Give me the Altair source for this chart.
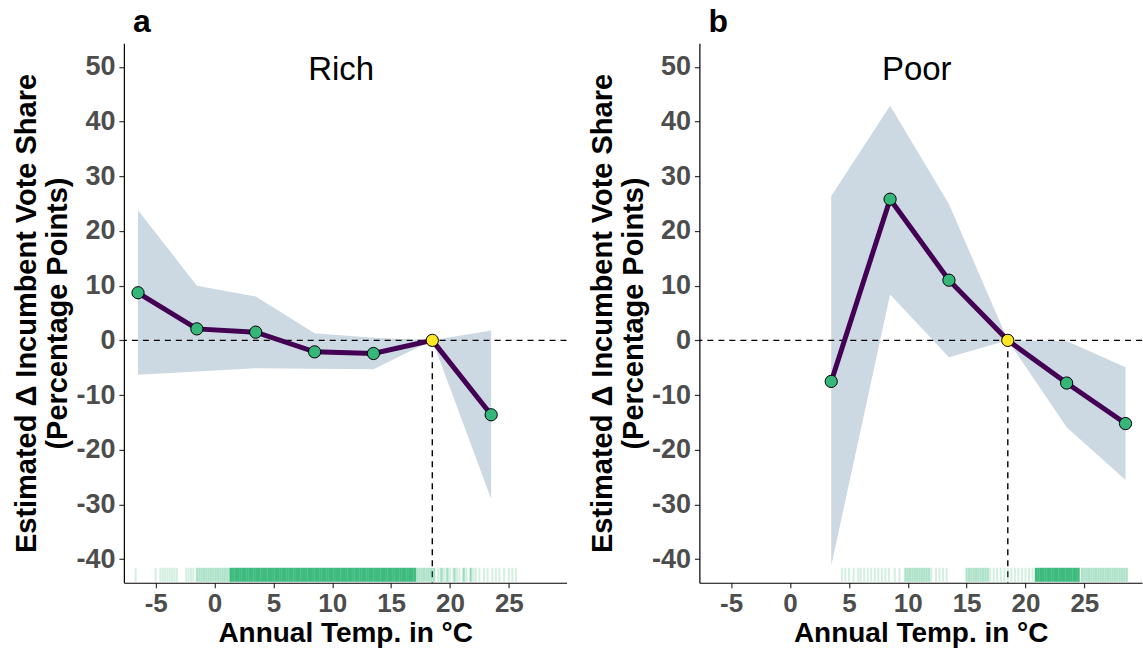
import altair as alt
import pandas as pd

# ---- data ----
temps_a = [-6.5, -1.5, 3.5, 8.5, 13.5, 18.5, 23.5]
est_a = [8.7, 2.1, 1.5, -2.1, -2.4, 0.0, -13.6]
upper_a = [23.8, 10.0, 8.0, 1.3, 0.5, 0.0, 1.8]
lower_a = [-6.3, -5.7, -5.1, -5.2, -5.3, 0.0, -29.0]

temps_b = [3.5, 8.5, 13.5, 18.5, 23.5, 28.5]
est_b = [-7.5, 25.8, 11.0, 0.0, -7.8, -15.2]
upper_b = [26.4, 42.9, 24.9, 0.0, -0.1, -4.9]
lower_b = [-41.2, 8.4, -3.1, 0.0, -15.9, -25.5]

ref_temp = 18.5

# rug (observed annual temperatures), grouped by how dense they appear
rug_a_light = [-6.7, -5.0, -4.6, -4.4, -4.2, -4.0, -3.8, -3.6, -3.4, -3.2, -2.4, -2.2,
               -2.0, -1.8, 18.7, 19.0, 19.2, 19.5, 19.7, 20.0, 20.3, 20.6, 20.8, 21.1,
               21.4, 21.7, 22.0, 22.2, 22.5, 22.9, 23.2, 23.6, 23.9, 24.2, 24.6, 25.0,
               25.3, 25.6]
rug_a_mid = [-1.5, -1.3, -1.1, -0.9, -0.7, -0.5, -0.3, -0.1, 0.1, 0.3, 0.5, 0.7, 0.9,
             1.1, 1.3, 17.2, 17.4, 17.6, 17.8, 18.0, 18.2, 18.4, 18.6, 19.3, 19.8, 20.4,
             21.2, 21.8]
rug_a_dense = [1.4, 1.6, 1.8, 2.0, 2.2, 2.4, 2.6, 2.8, 3.0, 3.2, 3.4, 3.6, 3.8, 4.0,
               4.2, 4.4, 4.6, 4.8, 5.0, 5.2, 5.4, 5.6, 5.8, 6.0, 6.2, 6.4, 6.6, 6.8,
               7.0, 7.2, 7.4, 7.6, 7.8, 8.0, 8.2, 8.4, 8.6, 8.8, 9.0, 9.2, 9.4, 9.6,
               9.8, 10.0, 10.2, 10.4, 10.6, 10.8, 11.0, 11.2, 11.4, 11.6, 11.8, 12.0,
               12.2, 12.4, 12.6, 12.8, 13.0, 13.2, 13.4, 13.6, 13.8, 14.0, 14.2, 14.4,
               14.6, 14.8, 15.0, 15.2, 15.4, 15.6, 15.8, 16.0, 16.2, 16.4, 16.6, 16.8,
               17.0]

rug_b_light = [4.4, 4.7, 5.0, 5.4, 5.8, 6.0, 6.3, 6.6, 6.9, 7.2, 7.5, 7.8, 8.1, 8.4,
               8.9, 9.3, 12.0, 12.4, 12.7, 13.0, 13.3, 17.0, 17.3, 17.6, 17.9, 18.2,
               18.5, 18.8, 19.1, 19.4, 19.7, 20.0, 20.3, 20.6]
rug_b_mid = [9.8, 10.0, 10.2, 10.4, 10.6, 10.8, 11.0, 11.2, 11.4, 11.6, 11.8, 15.0,
             15.2, 15.4, 15.6, 15.8, 16.0, 16.2, 16.4, 16.6, 16.8, 24.8, 25.0, 25.2,
             25.4, 25.6, 25.8, 26.0, 26.2, 26.4, 26.6, 26.8, 27.0, 27.2, 27.4, 27.6,
             27.8, 28.0, 28.2, 28.4, 28.6]
rug_b_dense = [20.9, 21.1, 21.3, 21.5, 21.7, 21.9, 22.1, 22.3, 22.5, 22.7, 22.9, 23.1,
               23.3, 23.5, 23.7, 23.9, 24.1, 24.3, 24.5]

y_ticks = [-40, -30, -20, -10, 0, 10, 20, 30, 40, 50]
x_ticks = [-5, 0, 5, 10, 15, 20, 25]
y_domain = [-44.3, 54.3]
x_domain = [-7.7, 29.9]

FONT = "Liberation Sans"
PURPLE = "#440154"
GREEN = "#35B779"
YELLOW = "#FDE725"
BAND = "#CCD9E3"
H = 540
W = 443


def panel(temps, est, lo, hi, rug_light, rug_mid, rug_dense, letter, name):
    df = pd.DataFrame({"temp": temps, "est": est, "lo": lo, "hi": hi})
    df["is_ref"] = df["temp"] == ref_temp
    xs = alt.Scale(domain=x_domain, nice=False, zero=False)
    ys = alt.Scale(domain=y_domain, nice=False, zero=False)
    xax = alt.Axis(values=x_ticks, title="Annual Temp. in °C", grid=False,
                   labelExpr="'' + datum.value")
    yax = alt.Axis(values=y_ticks, title=["Estimated Δ Incumbent Vote Share", "(Percentage Points)"],
                   grid=False, labelExpr="'' + datum.value")
    base = alt.Chart(df)
    band = base.mark_area(color=BAND, opacity=1).encode(
        x=alt.X("temp:Q", scale=xs, axis=xax),
        y=alt.Y("lo:Q", scale=ys, axis=yax),
        y2="hi:Q",
    )
    zero = alt.Chart(pd.DataFrame({"y": [0]})).mark_rule(
        color="black", strokeDash=[6, 5], strokeWidth=1.4
    ).encode(y=alt.Y("y:Q", scale=ys))
    vref = alt.Chart(pd.DataFrame({"x": [ref_temp], "y": [0], "y2": [y_domain[0]]})).mark_rule(
        color="black", strokeDash=[6, 5], strokeWidth=1.4
    ).encode(x=alt.X("x:Q", scale=xs), y=alt.Y("y:Q", scale=ys), y2="y2:Q")

    def rug_layer(vals, op, sw):
        return alt.Chart(pd.DataFrame({"temp": vals})).mark_rule(
            color=GREEN, strokeWidth=sw, opacity=op
        ).encode(x=alt.X("temp:Q", scale=xs), y=alt.value(H - 15), y2=alt.value(H - 1))

    rl = rug_layer(rug_light, 0.22, 2.0)
    rm = rug_layer(rug_mid, 0.4, 2.2)
    rd = rug_layer(rug_dense, 0.95, 2.6)
    line = base.mark_line(color=PURPLE, strokeWidth=5).encode(
        x=alt.X("temp:Q", scale=xs), y=alt.Y("est:Q", scale=ys)
    )
    pts = base.mark_point(filled=True, size=150, stroke="black", strokeWidth=1, opacity=1).encode(
        x=alt.X("temp:Q", scale=xs), y=alt.Y("est:Q", scale=ys),
        fill=alt.condition("datum.is_ref", alt.value(YELLOW), alt.value(GREEN)),
    )
    label = alt.Chart(pd.DataFrame({"t": [name]})).mark_text(
        font=FONT, fontSize=33, color="black", baseline="middle", align="center"
    ).encode(text="t:N", x=alt.value(W / 2 - 4), y=alt.value(27))
    return alt.layer(band, zero, vref, rl, rm, rd, line, pts, label).properties(
        width=W, height=H,
        title=alt.TitleParams(letter, anchor="start", fontSize=32, font=FONT,
                              fontWeight="bold", color="black", offset=4, frame="group", dx=9),
    )


pa = panel(temps_a, est_a, lower_a, upper_a, rug_a_light, rug_a_mid, rug_a_dense, "a", "Rich")
pb = panel(temps_b, est_b, lower_b, upper_b, rug_b_light, rug_b_mid, rug_b_dense, "b", "Poor")

chart = alt.hconcat(pa, pb, spacing=20).properties(
    padding={"left": 12, "top": 6, "right": 0, "bottom": 0}
).configure_view(stroke=None).configure_axis(
    domainColor="black", domainWidth=1.2, tickColor="#333333", tickSize=5, tickWidth=1.2,
    labelFont=FONT, labelFontSize=27, labelFontWeight="bold", labelColor="#4d4d4d",
    labelPadding=4, titleFont=FONT, titleFontSize=29, titleFontWeight="bold",
    titleColor="black", titlePadding=3,
).configure_axisX(labelFontSize=26, labelPadding=3, titleFontSize=28, titlePadding=3).configure_concat(spacing=20)

chart.save("out.html", embed_options={"renderer": "svg", "actions": False})
